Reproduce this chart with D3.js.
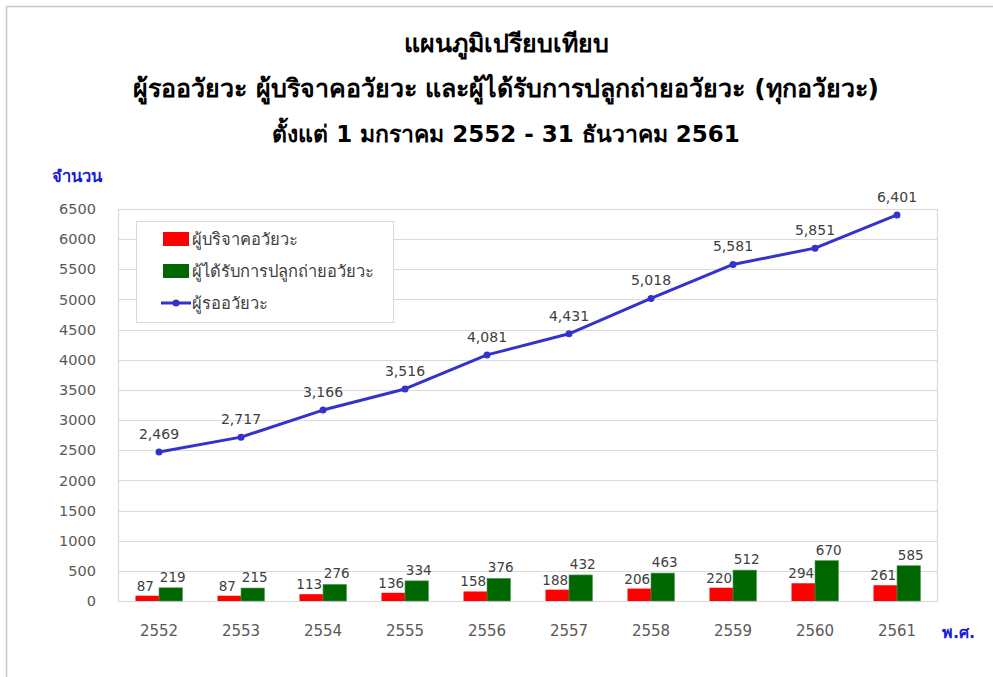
<!DOCTYPE html>
<html>
<head>
<meta charset="utf-8">
<script src="https://cdn.jsdelivr.net/npm/d3@7"></script>
<style>
  body { margin: 0; background: #fff; }
  svg { display: block; font-family: Tahoma, "DejaVu Sans", "Noto Sans", sans-serif; }
</style>
</head>
<body>
<svg id="chart" width="993" height="677"></svg>
<script>
// data
const years = ["2552", "2553", "2554", "2555", "2556", "2557", "2558", "2559", "2560", "2561"];
const donors = [87, 87, 113, 136, 158, 188, 206, 220, 294, 261];
const recipients = [219, 215, 276, 334, 376, 432, 463, 512, 670, 585];
const waiting = [2469, 2717, 3166, 3516, 4081, 4431, 5018, 5581, 5851, 6401];
const yTicks = [0, 500, 1000, 1500, 2000, 2500, 3000, 3500, 4000, 4500, 5000, 5500, 6000, 6500];
const titleLines = [
  "แผนภูมิเปรียบเทียบ",
  "ผู้รออวัยวะ ผู้บริจาคอวัยวะ และผู้ได้รับการปลูกถ่ายอวัยวะ (ทุกอวัยวะ)",
  "ตั้งแต่ 1 มกราคม 2552 - 31 ธันวาคม 2561"
];
const legendItems = [
  { name: "ผู้บริจาคอวัยวะ", type: "bar", color: "#ff0000" },
  { name: "ผู้ได้รับการปลูกถ่ายอวัยวะ", type: "bar", color: "#006600" },
  { name: "ผู้รออวัยวะ", type: "line", color: "#3333cc" }
];

const svg = d3.select("#chart");
const W = +svg.attr("width"), H = +svg.attr("height");
const plot = { left: 118, right: 938, top: 209, bottom: 601 };
const labelFont = "Tahoma, 'DejaVu Sans', sans-serif";

// outer frame (only top and left edges show)
svg.append("rect")
  .attr("x", 6.5).attr("y", 6.5)
  .attr("width", W + 20).attr("height", H + 20)
  .attr("fill", "#fff").attr("stroke", "#c8c8c8").attr("stroke-width", 1.5);

const x = d3.scaleBand().domain(years).range([plot.left, plot.right]);
const y = d3.scaleLinear().domain([0, 6500]).range([plot.bottom, plot.top]);

// title
svg.append("g").selectAll("text").data(titleLines).join("text")
  .attr("x", 506).attr("y", (d, i) => 52 + i * 45)
  .attr("text-anchor", "middle")
  .attr("font-size", (d, i) => i === 2 ? 23 : 25)
  .attr("font-weight", "bold").attr("fill", "#000")
  .text(d => d);

// grid
svg.append("g").selectAll("line").data(yTicks).join("line")
  .attr("x1", plot.left).attr("x2", plot.right)
  .attr("y1", d => Math.round(y(d)) + 0.5).attr("y2", d => Math.round(y(d)) + 0.5)
  .attr("stroke", "#d9d9d9").attr("stroke-width", 1.2);
svg.append("line")
  .attr("x1", plot.left + 0.5).attr("x2", plot.left + 0.5)
  .attr("y1", plot.top).attr("y2", plot.bottom)
  .attr("stroke", "#d9d9d9").attr("stroke-width", 1.2);
svg.append("line")
  .attr("x1", plot.right - 0.5).attr("x2", plot.right - 0.5)
  .attr("y1", plot.top).attr("y2", plot.bottom)
  .attr("stroke", "#d9d9d9").attr("stroke-width", 1.2);

// y axis
const yAxis = svg.append("g")
  .attr("transform", `translate(${plot.left - 22},0)`)
  .call(d3.axisLeft(y).tickValues(yTicks).tickSize(0).tickPadding(0).tickFormat(d3.format("d")));
yAxis.select(".domain").remove();
yAxis.selectAll("text").attr("font-size", 14.5).attr("fill", "#595959")
  .attr("font-family", labelFont);

// x axis
const xAxis = svg.append("g")
  .attr("transform", `translate(0,${plot.bottom})`)
  .call(d3.axisBottom(x).tickSize(0).tickPadding(24));
xAxis.select(".domain").remove();
xAxis.selectAll("text").attr("font-size", 15).attr("fill", "#595959")
  .attr("font-family", labelFont);

// bars
const barW = 23.5;
const bx = d => x(d) + x.bandwidth() / 2;
const barG = svg.append("g");
barG.selectAll(".donor").data(years).join("rect")
  .attr("x", d => bx(d) - barW).attr("width", barW)
  .attr("y", (d, i) => y(donors[i])).attr("height", (d, i) => plot.bottom - y(donors[i]))
  .attr("fill", "#ff0000");
barG.selectAll(".recip").data(years).join("rect")
  .attr("x", d => bx(d)).attr("width", barW)
  .attr("y", (d, i) => y(recipients[i])).attr("height", (d, i) => plot.bottom - y(recipients[i]))
  .attr("fill", "#006600").attr("stroke", "#5a9a5a").attr("stroke-width", 0.6);

barG.selectAll(".dl").data(years).join("text")
  .attr("x", d => bx(d) - barW / 2 - 2).attr("y", (d, i) => y(donors[i]) - 5)
  .attr("text-anchor", "middle").attr("font-size", 13.5).attr("fill", "#404040")
  .attr("font-family", labelFont)
  .text((d, i) => d3.format(",")(donors[i]));
barG.selectAll(".rl").data(years).join("text")
  .attr("x", d => bx(d) + barW / 2 + 2).attr("y", (d, i) => y(recipients[i]) - 6)
  .attr("text-anchor", "middle").attr("font-size", 13.5).attr("fill", "#404040")
  .attr("font-family", labelFont)
  .text((d, i) => d3.format(",")(recipients[i]));

// line
const lineG = svg.append("g");
lineG.append("path")
  .datum(waiting)
  .attr("fill", "none").attr("stroke", "#3333cc").attr("stroke-width", 3)
  .attr("stroke-linejoin", "round")
  .attr("d", d3.line().x((d, i) => bx(years[i])).y(d => y(d)));
lineG.selectAll("circle").data(waiting).join("circle")
  .attr("cx", (d, i) => bx(years[i])).attr("cy", d => y(d)).attr("r", 3.5)
  .attr("fill", "#3333cc");
lineG.selectAll("text").data(waiting).join("text")
  .attr("x", (d, i) => bx(years[i])).attr("y", d => y(d) - 13)
  .attr("text-anchor", "middle").attr("font-size", 14).attr("fill", "#404040")
  .attr("font-family", labelFont)
  .text(d => d3.format(",")(d));

// legend
const lg = svg.append("g").attr("transform", "translate(136,221)");
lg.append("rect").attr("x", 0.5).attr("y", 0.5).attr("width", 257).attr("height", 101)
  .attr("fill", "#fff").attr("stroke", "#d9d9d9");
const li = lg.selectAll("g").data(legendItems).join("g")
  .attr("transform", (d, i) => `translate(0,${18 + i * 32})`);
li.filter(d => d.type === "bar").append("rect")
  .attr("x", 27).attr("y", -7).attr("width", 26).attr("height", 14)
  .attr("fill", d => d.color);
li.filter(d => d.type === "line").append("line")
  .attr("x1", 25).attr("x2", 55).attr("y1", 0).attr("y2", 0)
  .attr("stroke", d => d.color).attr("stroke-width", 3);
li.filter(d => d.type === "line").append("circle")
  .attr("cx", 40).attr("cy", 0).attr("r", 3.5).attr("fill", d => d.color);
li.append("text").attr("x", 56).attr("y", 6)
  .attr("font-size", 16.5).attr("fill", "#404040")
  .text(d => d.name);

// axis titles
svg.append("text").attr("x", 52).attr("y", 182)
  .attr("font-size", 16.5).attr("font-weight", "bold").attr("fill", "#1a1adb")
  .text("จำนวน");
svg.append("text").attr("x", 942).attr("y", 638)
  .attr("font-size", 16).attr("font-weight", "bold").attr("fill", "#1a1adb")
  .text("พ.ศ.");
</script>
</body>
</html>
